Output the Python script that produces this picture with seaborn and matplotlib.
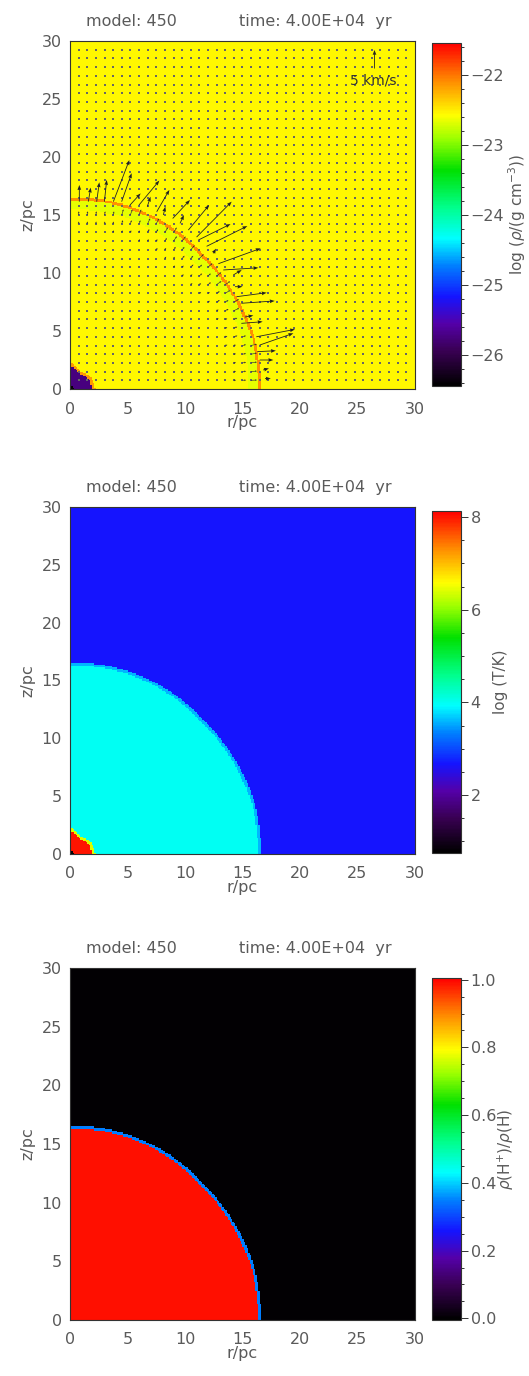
import numpy as np
import matplotlib
matplotlib.use("Agg")
import matplotlib.pyplot as plt
from matplotlib.colors import LinearSegmentedColormap
from matplotlib.ticker import MultipleLocator
import seaborn as sns

# ---------------- data ----------------
model_number = 450
time_text = "4.00E+04"
axis_ticks_pc = [0, 5, 10, 15, 20, 25, 30]

boundary_angles_deg = [0, 15, 30, 45, 60, 75, 90]
shell_radius_pc = [16.55, 16.6, 16.45, 16.35, 16.5, 16.55, 16.5]
hot_radius_pc = [2.1, 2.0, 1.95, 1.8, 1.7, 1.9, 2.2]

region_names = ["ambient", "shell", "shell_inner", "ionized", "hot_rim", "hot", "core"]
log_density = [-22.55, -22.1, -22.66, -22.55, -22.15, -25.75, -26.4]
log_temperature = [2.67, 3.6, 4.0, 4.0, 6.4, 8.0, 0.8]
ion_fraction = [0.0, 0.35, 0.99, 0.99, 0.99, 0.99, 0.99]

# large velocity arrows (tail position in pc, velocity in km/s)
arrow_r = [0.81, 1.59, 2.32, 2.99, 3.77, 4.49, 5.22, 6.00, 6.72, 7.54, 8.12, 8.93,
           9.57, 10.29, 11.01, 11.16, 11.88, 12.46, 12.90, 13.33, 14.20, 14.35,
           14.50, 14.90, 14.90, 15.20, 16.20, 16.30, 16.50, 16.80, 16.96, 16.50]
arrow_z = [16.15, 16.15, 16.15, 16.15, 16.15, 16.15, 15.86, 15.86, 15.72, 15.28, 15.00, 14.70,
           14.28, 13.70, 13.10, 12.84, 12.30, 11.70, 10.80, 10.26, 9.83, 8.82,
           7.96, 7.39, 5.66, 6.20, 4.50, 3.22, 2.50, 1.64, 0.90, 3.79]
arrow_vr = [0.0, 0.66, 0.72, 0.63, 4.34, 2.72, 2.88, 5.53, 0.88, 3.44, 0.53, 4.69,
            1.06, 5.66, 9.53, 8.75, 11.06, 0.75, 11.5, 9.53, 2.28, 2.03,
            8.13, 9.06, 5.78, 2.31, 10.5, 5.0, 3.69, 1.56, 1.56, 9.13]
arrow_vz = [4.5, 3.78, 5.22, 5.84, 11.2, 7.66, 3.13, 6.59, 2.69, 5.88, 2.25, 4.97,
            2.25, 6.75, 9.53, 4.31, 5.47, 1.25, 4.13, 0.59, 1.34, 0.0,
            1.06, 0.63, 0.44, 0.44, 2.0, 0.25, 0.0, 0.44, 0.0, 3.16]

# small outward arrows in the layer just inside the shell
inner_band_depth_pc = [0.9, 1.7, 2.6]
inner_band_speed_kms = [1.6, 1.0, 0.6]

ref_speed_kms = 5

# ---------------- styling ----------------
sns.set_style("ticks")
plt.rcParams["font.family"] = ["DejaVu Sans"]
plt.rcParams["mathtext.fontset"] = "dejavusans"
TXT = "#5a5a5a"
LINE = "#333333"
FS = 11.5

cmap = LinearSegmentedColormap.from_list("idl_rainbow", [
    (0.00, (0.00, 0.00, 0.00)),
    (0.10, (0.22, 0.00, 0.32)),
    (0.18, (0.33, 0.00, 0.66)),
    (0.26, (0.08, 0.08, 1.00)),
    (0.35, (0.00, 0.50, 1.00)),
    (0.43, (0.00, 1.00, 1.00)),
    (0.52, (0.00, 1.00, 0.55)),
    (0.63, (0.00, 0.88, 0.00)),
    (0.72, (0.60, 1.00, 0.00)),
    (0.79, (1.00, 1.00, 0.00)),
    (0.89, (1.00, 0.55, 0.00)),
    (1.00, (1.00, 0.00, 0.00)),
])

# ---------------- geometry of the simulation grid ----------------
dx = 0.125
N = int(round(30 / dx))
c = (np.arange(N) + 0.5) * dx
RR, ZZ = np.meshgrid(c, c)
rad = np.hypot(RR, ZZ)
theta = np.degrees(np.arctan2(ZZ, RR))
Rs = np.interp(theta, boundary_angles_deg, shell_radius_pc)
Rh = np.interp(theta, boundary_angles_deg, hot_radius_pc)

code = np.zeros((N, N), dtype=int)
code[rad < Rs + 0.05] = 1
code[rad < Rs - 0.2] = 2
code[rad < Rs - 1.0] = 3
code[rad < Rh + 0.1] = 4
code[rad < Rh - 0.15] = 5
code[rad < 0.35] = 6

fields = [np.array(log_density)[code],
          np.array(log_temperature)[code],
          np.array(ion_fraction)[code]]
ranges = [(-26.44, -21.54), (0.75, 8.13), (-0.005, 1.005)]
cb_ticks = [[-26, -25, -24, -23, -22], [2, 4, 6, 8], [0.0, 0.2, 0.4, 0.6, 0.8, 1.0]]
cb_minor = [0.2, 0.5, 0.05]
cb_fmt = ["{:.0f}", "{:.0f}", "{:.1f}"]
cb_labels = [r"log ($\rho$/(g cm$^{-3}$))", "log (T/K)",
             r"$\rho$(H$^{+}$)/$\rho$(H)"]
cb_label_x = [2.55, 2.1, 2.2]

W, H = 529, 1376
fig = plt.figure(figsize=(W / 100, H / 100), dpi=100)
ax_px = [(41, 389), (507, 854), (968, 1320)]
cb_px = [(43, 386), (511, 853), (978, 1320)]

for k in range(3):
    top, bot = ax_px[k]
    ax = fig.add_axes([70 / W, (H - bot) / H, 345 / W, (bot - top) / H])
    ctop, cbot = cb_px[k]
    cax = fig.add_axes([432 / W, (H - cbot) / H, 29 / W, (cbot - ctop) / H])
    vmin, vmax = ranges[k]
    sns.heatmap(fields[k], ax=ax, cmap=cmap, vmin=vmin, vmax=vmax, cbar=True,
                cbar_ax=cax, xticklabels=False, yticklabels=False, rasterized=True)
    ax.set_xlim(0, N)
    ax.set_ylim(0, N)
    for s in ax.spines.values():
        s.set_visible(True)
        s.set_color(LINE)
        s.set_linewidth(0.8)
    ax.set_xticks(np.array(axis_ticks_pc) / dx)
    ax.set_xticklabels([str(t) for t in axis_ticks_pc])
    ax.set_yticks(np.array(axis_ticks_pc) / dx)
    ax.set_yticklabels([str(t) for t in axis_ticks_pc], rotation=0)
    ax.set_xticks(np.arange(0, 31) / dx, minor=True)
    ax.set_yticks(np.arange(0, 31) / dx, minor=True)
    ax.tick_params(which="both", direction="in", top=True, right=True,
                   color=LINE, width=0.7, labelcolor=TXT, labelsize=FS)
    ax.tick_params(which="major", length=6)
    ax.tick_params(which="minor", length=3)
    ax.tick_params(axis="x", which="major", pad=9)
    ax.tick_params(axis="y", which="major", pad=6)
    ax.set_xlabel("r/pc", fontsize=FS, color=TXT, labelpad=-1)
    ax.set_ylabel("z/pc", fontsize=FS, color=TXT, labelpad=4)
    ax.text(0.045, 1.035, f"model: {model_number}", transform=ax.transAxes,
            fontsize=FS, color=TXT, ha="left", va="bottom")
    ax.text(0.49, 1.035, f"time: {time_text}  yr", transform=ax.transAxes,
            fontsize=FS, color=TXT, ha="left", va="bottom")

    # colorbar
    cb = ax.collections[0].colorbar
    cb.outline.set_linewidth(0.8)
    cb.outline.set_edgecolor(LINE)
    cax.set_ylim(vmin, vmax)
    cax.yaxis.set_ticks(cb_ticks[k])
    cax.yaxis.set_ticklabels([cb_fmt[k].format(t).replace("-", "\u2212") for t in cb_ticks[k]])
    cax.yaxis.set_minor_locator(MultipleLocator(cb_minor[k]))
    cax.tick_params(which="both", direction="out", right=True, left=False,
                    color=LINE, width=0.7, labelcolor=TXT, labelsize=FS, pad=2)
    cax.tick_params(which="major", length=5)
    cax.tick_params(which="minor", length=2.5)
    cax.set_ylabel(cb_labels[k], fontsize=FS - 0.5, color=TXT, rotation=90)
    cax.yaxis.set_label_coords(cb_label_x[k], 0.5)

    if k == 0:
        # background grid of velocity dots
        g = 0.75 * np.arange(1, 40)
        GX, GZ = np.meshgrid(g, g)
        ax.scatter(GX.ravel() / dx, GZ.ravel() / dx, s=0.6, marker="s",
                   color="#666666", linewidths=0, zorder=2)
        # small outward arrows inside the shell
        ar = np.array(arrow_r)
        az = np.array(arrow_z)
        gr = np.hypot(GX, GZ)
        gth = np.degrees(np.arctan2(GZ, GX))
        depth = np.interp(gth, boundary_angles_deg, shell_radius_pc) - gr
        sel = (depth > 0.2) & (depth < inner_band_depth_pc[-1])
        sx, sz, su, sv = [], [], [], []
        for px, pz, d, rr in zip(GX[sel], GZ[sel], depth[sel], gr[sel]):
            if np.min(np.hypot(ar - px, az - pz)) < 0.5:
                continue
            band = int(np.searchsorted(inner_band_depth_pc, d))
            sp = inner_band_speed_kms[band]
            sx.append(px); sz.append(pz)
            su.append(sp * px / rr); sv.append(sp * pz / rr)
        pc_per_kms = 0.32
        qscale = dx / pc_per_kms
        qkw = dict(angles="xy", scale_units="xy", scale=qscale, color="#222222",
                   width=0.0024, headwidth=4.5, headlength=6, headaxislength=5.5,
                   zorder=3)
        small_kw = dict(angles="xy", scale_units="xy", scale=qscale, color="#333333",
                        width=0.0018, headwidth=3.0, headlength=3.0,
                        headaxislength=2.8, minlength=0.5, zorder=3)
        ax.quiver(np.array(sx) / dx, np.array(sz) / dx, su, sv, **small_kw)
        ax.quiver(ar / dx, az / dx, arrow_vr, arrow_vz, **qkw)
        # reference arrow
        ax.quiver([26.4 / dx], [27.7 / dx], [0], [ref_speed_kms], **qkw)
        ax.text(26.4 / dx, 26.6 / dx, f"{ref_speed_kms} km/s", fontsize=FS - 1.5,
                color="#333333", ha="center", va="center", zorder=4)

fig.savefig("out.png", dpi=100)
